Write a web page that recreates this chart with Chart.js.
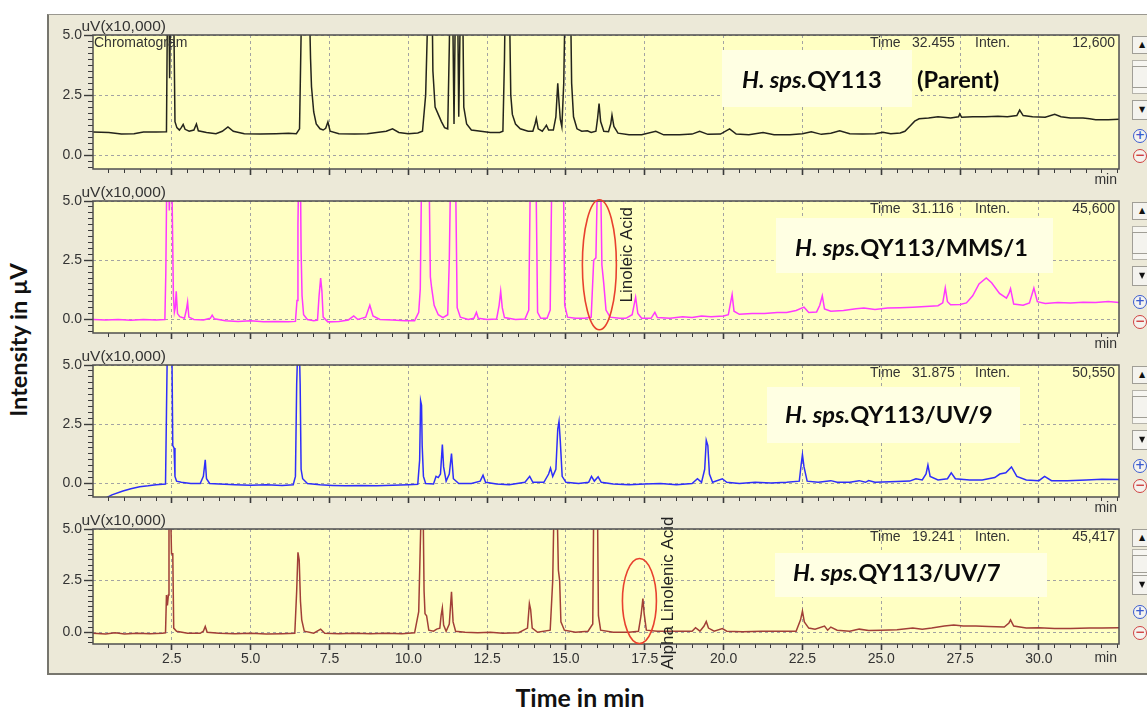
<!DOCTYPE html>
<html>
<head>
<meta charset="utf-8">
<script src="https://cdn.jsdelivr.net/npm/chart.js@4.4.1/dist/chart.umd.min.js"></script>
<style>
html,body{margin:0;padding:0;background:#fff;width:1147px;height:709px;overflow:hidden;position:relative;font-family:'Liberation Sans',Arial,sans-serif}
#frame{position:absolute;left:47px;top:14px;width:1110px;height:661px;background:#ECE9D8;box-sizing:border-box;border-top:1px solid #9a9890;border-left:2px solid #77766e;border-bottom:2px solid #77766e}
canvas{position:absolute}
.title{position:absolute;font-family:Lato,'Open Sans',sans-serif;font-weight:bold;color:#111;white-space:nowrap}
.btn{position:absolute;left:1132px;width:20px;box-sizing:border-box;background:#f4f3ee;border:1px solid #a09e96;font-size:8px;color:#111;text-align:center;font-family:'DejaVu Sans',sans-serif}
.slot{position:absolute;left:1132px;width:20px;box-sizing:border-box;background:#f7f6f1;border:1px solid #b5b3aa}
.circ{position:absolute;left:1133px;width:14px;height:14px;box-sizing:border-box;border-radius:50%;border:1.5px solid;background:#f4f3ee;font:bold 12px/11px 'DejaVu Sans',sans-serif;text-align:center}
</style>
</head>
<body>
<div id="frame"></div>
<div class="title" id="ytitle">Intensity in µV</div>
<div class="title" id="xtitle">Time in min</div>
<script>
// ---------------- data ----------------
const sampleGenus = 'H. sps.';
const sampleNames = ['QY113', 'QY113/MMS/1', 'QY113/UV/9', 'QY113/UV/7'];
const sampleNotes = ['(Parent)', '', '', ''];
const cursorTimes = ['32.455', '31.116', '31.875', '19.241'];
const cursorIntens = ['12,600', '45,600', '50,550', '45,417'];
const yUnitLabel = 'uV(x10,000)';
const xUnitLabel = 'min';
const xMajorTicks = [2.5, 5.0, 7.5, 10.0, 12.5, 15.0, 17.5, 20.0, 22.5, 25.0, 27.5, 30.0];
const yMajorTicks = [0.0, 2.5, 5.0];
const annoLabels = ['Linoleic Acid', 'Alpha Linolenic Acid'];
const annoTimes = [16.06, 17.33];
const annoLevels = [2.31, 1.51];

// [retention time (min), intensity (x10,000 uV)]
const parentTrace = [[0,0.97],[0.5,0.95],[0.9,0.88],[1.3,0.9],[1.6,0.97],[2.0,0.97],[2.33,0.98],
[2.36,6],[2.41,6],[2.43,3.2],[2.46,6],[2.56,6],[2.6,1.4],[2.66,1.15],[2.74,1.05],[2.8,1.15],[2.86,1.28],[2.92,1.08],[3.05,1.0],[3.2,1.05],[3.28,1.3],[3.34,1.02],[3.6,0.95],[3.9,0.9],[4.1,1.0],[4.28,1.18],[4.45,1.0],[4.8,0.9],[5.3,0.88],[5.8,0.9],[6.2,0.92],[6.45,0.9],[6.55,1.1],[6.6,5],[6.63,7],[6.85,7],[6.9,4],[6.93,2.85],[7.0,1.8],[7.08,1.3],[7.2,1.1],[7.3,1.05],[7.38,1.12],[7.45,1.39],[7.52,1.0],[7.8,0.9],[8.3,0.88],[8.7,0.9],[9.0,0.95],[9.3,1.0],[9.5,1.1],[9.7,0.95],[10.0,0.9],[10.3,0.93],[10.45,1.0],[10.55,2.5],[10.6,5],[10.62,7],[10.75,7],[10.78,3.5],[10.85,2.0],[10.95,1.7],[11.05,1.4],[11.15,1.15],[11.25,1.1],[11.3,4.5],[11.33,7],[11.4,7],[11.45,1.3],[11.5,7],[11.56,7],[11.6,1.6],[11.66,7],[11.72,7],[11.76,2.0],[11.85,1.3],[12.0,1.05],[12.3,1.0],[12.6,0.95],[12.9,0.95],[13.0,1.0],[13.05,4],[13.08,7],[13.2,7],[13.25,2.5],[13.3,1.7],[13.4,1.3],[13.55,1.1],[13.8,1.0],[13.95,1.0],[14.02,1.3],[14.06,1.53],[14.12,1.1],[14.25,1.0],[14.33,1.15],[14.38,1.25],[14.45,1.05],[14.6,1.05],[14.68,1.6],[14.74,2.99],[14.78,2.2],[14.82,1.5],[14.87,1.18],[14.93,3],[14.98,7],[15.14,7],[15.18,3],[15.24,1.6],[15.35,1.1],[15.5,1.0],[15.68,1.02],[15.8,0.95],[15.95,1.0],[16.0,1.5],[16.05,2.15],[16.1,1.4],[16.2,1.0],[16.35,0.98],[16.42,1.3],[16.46,1.67],[16.52,1.2],[16.65,0.92],[17.0,0.85],[17.4,0.85],[17.85,1.0],[18.1,0.85],[18.6,0.85],[19.0,0.88],[19.24,1.0],[19.5,0.87],[19.9,0.88],[20.19,1.1],[20.4,0.88],[20.8,0.85],[21.25,0.95],[21.6,0.85],[22.1,0.85],[22.5,0.9],[22.78,0.98],[23.1,0.87],[23.4,0.92],[23.68,1.02],[24.0,0.9],[24.4,0.88],[24.8,0.9],[25.05,0.96],[25.3,0.9],[25.6,0.93],[25.75,1.0],[25.9,1.2],[26.06,1.42],[26.2,1.52],[26.5,1.55],[26.8,1.6],[27.2,1.55],[27.45,1.6],[27.49,1.72],[27.55,1.58],[27.9,1.6],[28.3,1.6],[28.7,1.62],[29.0,1.6],[29.3,1.65],[29.39,1.88],[29.5,1.65],[29.8,1.6],[30.2,1.58],[30.5,1.7],[30.7,1.6],[31.0,1.55],[31.4,1.55],[31.61,1.52],[31.8,1.48],[32.2,1.48],[32.54,1.5]];

const mmsTrace = [[0,0.0],[0.4,-0.02],[0.8,0.0],[1.2,-0.03],[1.6,0.0],[2.0,-0.02],[2.28,0.0],[2.31,2.0],[2.34,6],[2.40,6],[2.42,4.6],[2.45,6],[2.5,6],[2.55,1.0],[2.58,0.3],[2.61,0.5],[2.64,1.19],[2.68,0.25],[2.75,0.12],[2.9,0.05],[2.96,0.4],[3.0,0.74],[3.04,0.1],[3.2,0.0],[3.5,-0.02],[3.72,0.05],[3.78,0.18],[3.85,0.03],[4.2,-0.05],[4.6,-0.08],[5.0,-0.05],[5.4,-0.1],[5.8,-0.08],[6.2,-0.1],[6.42,-0.08],[6.47,0.8],[6.5,4],[6.52,6],[6.58,6],[6.6,2.87],[6.63,1.0],[6.68,0.2],[6.8,0.0],[7.0,-0.05],[7.12,-0.03],[7.17,1.0],[7.22,1.75],[7.26,1.2],[7.3,0.1],[7.45,-0.1],[7.8,-0.08],[8.1,-0.02],[8.27,0.15],[8.4,0.0],[8.65,0.1],[8.78,0.6],[8.88,0.15],[9.1,0.0],[9.5,-0.02],[9.9,-0.05],[10.2,-0.05],[10.33,0.3],[10.38,1.3],[10.42,6],[10.66,6],[10.7,1.8],[10.74,1.33],[10.82,0.6],[10.95,0.2],[11.1,0.08],[11.25,0.2],[11.3,2.5],[11.34,6],[11.5,6],[11.55,0.5],[11.65,0.1],[11.9,0.0],[12.08,0.05],[12.16,0.3],[12.22,0.05],[12.5,0.0],[12.8,0.02],[12.88,0.6],[12.93,1.19],[12.98,0.5],[13.05,0.08],[13.4,0.0],[13.7,0.02],[13.82,0.4],[13.87,6],[14.05,6],[14.1,0.3],[14.2,0.05],[14.4,0.05],[14.5,0.4],[14.55,6],[14.92,6],[14.96,0.6],[15.05,0.1],[15.3,0.05],[15.6,0.05],[15.8,0.1],[15.88,2.5],[15.95,2.6],[16.0,6],[16.1,6],[16.14,2.3],[16.2,1.5],[16.27,0.4],[16.4,0.1],[16.7,0.05],[16.9,0.05],[17.1,0.2],[17.21,0.94],[17.28,0.25],[17.4,0.05],[17.7,0.05],[17.82,0.3],[17.9,0.08],[18.3,0.05],[18.7,0.12],[19.0,0.08],[19.3,0.15],[19.6,0.12],[20.0,0.15],[20.15,0.2],[20.22,0.7],[20.27,1.05],[20.33,0.35],[20.5,0.22],[20.9,0.25],[21.3,0.25],[21.7,0.3],[22.0,0.3],[22.3,0.38],[22.55,0.52],[22.7,0.3],[22.95,0.32],[23.05,0.6],[23.13,1.0],[23.2,0.45],[23.4,0.35],[23.8,0.38],[24.2,0.45],[24.45,0.48],[24.8,0.42],[25.2,0.48],[25.6,0.5],[26.0,0.52],[26.4,0.55],[26.8,0.58],[26.95,0.7],[27.03,1.33],[27.1,0.75],[27.2,0.62],[27.5,0.63],[27.7,0.7],[27.9,1.0],[28.1,1.5],[28.33,1.75],[28.5,1.55],[28.75,1.1],[28.97,0.9],[29.05,1.1],[29.1,1.3],[29.2,0.65],[29.5,0.6],[29.7,0.7],[29.84,1.33],[29.95,0.75],[30.2,0.68],[30.6,0.72],[31.0,0.7],[31.4,0.73],[31.8,0.72],[32.2,0.76],[32.54,0.72]];

const uv9Trace = [[0.2,-1.0],[0.37,-0.64],[0.6,-0.48],[0.95,-0.32],[1.2,-0.22],[1.48,-0.14],[1.75,-0.1],[2.0,-0.05],[2.3,-0.02],[2.33,3],[2.36,6],[2.5,6],[2.53,1.6],[2.57,1.5],[2.6,0.3],[2.65,0.1],[2.8,0.05],[3.1,0.0],[3.4,0.0],[3.5,0.3],[3.56,1.0],[3.6,0.2],[3.7,0.0],[4.0,-0.02],[4.5,-0.05],[5.0,-0.07],[5.5,-0.05],[6.0,-0.08],[6.35,-0.05],[6.42,0.3],[6.46,4.2],[6.5,6],[6.54,6],[6.57,4.2],[6.6,0.6],[6.65,0.2],[6.8,0.0],[7.2,-0.05],[7.6,-0.08],[8.0,-0.1],[8.5,-0.08],[9.0,-0.1],[9.5,-0.07],[10.0,-0.05],[10.3,-0.03],[10.36,1.0],[10.39,3.49],[10.42,3.3],[10.44,1.6],[10.48,0.3],[10.55,0.0],[10.8,-0.02],[10.88,0.3],[10.95,0.25],[11.02,0.4],[11.08,1.64],[11.12,0.7],[11.2,0.1],[11.3,0.4],[11.37,1.26],[11.43,0.2],[11.6,0.0],[12.0,0.0],[12.28,0.1],[12.37,0.35],[12.45,0.05],[12.8,-0.02],[13.2,-0.05],[13.7,0.05],[13.85,0.3],[13.95,0.05],[14.3,0.05],[14.45,0.4],[14.51,0.65],[14.58,0.3],[14.68,0.6],[14.74,2.3],[14.78,2.62],[14.82,1.8],[14.88,0.3],[15.0,0.05],[15.4,0.0],[15.72,0.05],[15.81,0.3],[15.9,0.1],[16.02,0.28],[16.12,0.05],[16.5,-0.02],[17.0,-0.05],[17.5,-0.02],[18.0,0.0],[18.5,-0.05],[19.0,0.0],[19.17,0.2],[19.3,0.05],[19.4,0.6],[19.45,1.82],[19.5,1.6],[19.55,0.4],[19.65,0.05],[19.96,0.2],[20.1,0.05],[20.5,0.0],[21.0,0.05],[21.5,0.02],[22.0,0.05],[22.4,0.1],[22.46,0.8],[22.5,1.22],[22.55,0.7],[22.65,0.1],[23.0,0.05],[23.4,0.12],[23.6,0.05],[24.0,0.05],[24.3,0.12],[24.5,0.05],[24.6,0.12],[24.8,0.05],[25.5,0.08],[25.9,0.1],[26.1,0.2],[26.3,0.15],[26.42,0.4],[26.48,0.78],[26.55,0.3],[26.8,0.15],[27.1,0.2],[27.22,0.45],[27.35,0.2],[27.8,0.15],[28.2,0.15],[28.6,0.25],[28.76,0.4],[28.95,0.45],[29.13,0.7],[29.3,0.3],[29.6,0.15],[30.0,0.12],[30.18,0.3],[30.4,0.12],[30.9,0.12],[31.5,0.15],[32.0,0.18],[32.54,0.17]];

const uv7Trace = [[0,-0.05],[0.4,-0.08],[0.7,-0.03],[1.0,-0.08],[1.4,-0.05],[1.8,-0.07],[2.2,-0.05],[2.3,-0.03],[2.33,1.8],[2.36,1.3],[2.39,1.8],[2.41,6],[2.46,6],[2.49,3.8],[2.53,3.8],[2.56,0.2],[2.65,0.05],[3.0,-0.05],[3.4,-0.05],[3.5,0.05],[3.56,0.28],[3.62,0.0],[4.0,-0.05],[4.5,-0.07],[5.0,-0.05],[5.5,-0.08],[6.0,-0.07],[6.4,-0.05],[6.46,2.0],[6.5,3.87],[6.54,3.5],[6.58,1.5],[6.62,0.6],[6.7,0.05],[7.0,-0.05],[7.22,0.15],[7.35,-0.05],[7.8,-0.07],[8.3,-0.05],[8.8,-0.07],[9.3,-0.05],[9.8,-0.07],[10.2,-0.03],[10.33,1.0],[10.38,4.2],[10.41,6],[10.47,6],[10.5,2.0],[10.53,0.9],[10.58,0.8],[10.65,0.1],[10.8,0.05],[10.9,0.15],[11.0,0.2],[11.04,0.8],[11.08,1.18],[11.12,0.35],[11.2,0.05],[11.3,0.4],[11.37,1.96],[11.42,0.5],[11.5,0.05],[11.8,0.0],[12.2,-0.02],[12.6,0.0],[13.0,-0.05],[13.5,-0.02],[13.78,0.2],[13.84,1.39],[13.88,1.1],[13.93,0.2],[14.1,0.0],[14.5,0.1],[14.58,2.5],[14.62,6],[14.72,6],[14.76,3.0],[14.8,2.5],[14.84,0.5],[14.95,0.1],[15.3,0.0],[15.7,0.05],[15.85,0.4],[15.88,6],[16.0,6],[16.03,0.8],[16.1,0.1],[16.5,0.0],[17.0,0.0],[17.3,0.05],[17.38,0.8],[17.44,1.63],[17.48,0.9],[17.55,0.1],[17.9,0.05],[18.5,0.05],[19.0,0.05],[19.11,0.22],[19.25,0.05],[19.38,0.3],[19.45,0.52],[19.52,0.2],[19.7,0.05],[19.96,0.18],[20.1,0.05],[20.6,0.02],[21.2,0.05],[21.8,0.05],[22.3,0.05],[22.44,0.6],[22.5,1.02],[22.56,0.5],[22.7,0.2],[22.9,0.15],[23.2,0.3],[23.3,0.1],[23.4,0.25],[23.6,0.1],[24.0,0.05],[24.3,0.15],[24.6,0.08],[25.0,0.1],[25.5,0.12],[26.0,0.2],[26.3,0.15],[26.6,0.2],[27.0,0.3],[27.3,0.35],[27.6,0.3],[28.0,0.3],[28.4,0.28],[28.9,0.25],[29.05,0.45],[29.1,0.6],[29.2,0.3],[29.6,0.2],[30.0,0.22],[30.5,0.18],[31.0,0.18],[31.6,0.2],[32.0,0.2],[32.54,0.22]];

const traces = [parentTrace, mmsTrace, uv9Trace, uv7Trace];

// ---------------- layout / style ----------------
const X_MIN = 0, X_MAX = 32.54, Y_MIN = -0.57, Y_MAX = 5.0;
const CANVAS_LEFT = 47, CANVAS_W = 1085, PAD_TOP = 22;
const layoutCfg = [
  {top:35,  bottom:169, xh:20, showX:false, color:'#24241c', box:[722,50,912,107],  tx:742, ty:80,  noteX:917, btn:[10,31,53,75,101,121], chrom:true},
  {top:201, bottom:333, xh:20, showX:false, color:'#ff38ff', box:[776,218,1053,273], tx:795, ty:248, btn:[10,31,53,75,101,121], anno:{i:0, rx:17, ry:65, dx:28, dy:-10}},
  {top:365, bottom:497, xh:20, showX:false, color:'#2e2efa', box:[767,387,1020,443], tx:785, ty:415, btn:[10,31,53,75,101,121]},
  {top:529, bottom:644, xh:31, showX:true,  color:'#a13f37', box:[775,553,1047,597], tx:793, ty:573, btn:[9,26,44,56,83,104], anno:{i:1, rx:17, ry:42.5, dx:28.6, dy:-8}}
];
const SMALL_FONT = "'Liberation Sans', Arial, sans-serif";
const LABEL_FONT = "Lato, 'Open Sans', sans-serif";

Chart.defaults.font.family = SMALL_FONT;
Chart.defaults.font.size = 14;
Chart.defaults.color = '#333';

// measure helper to size the big labels like the reference
const mctx = document.createElement('canvas').getContext('2d');
function textW(font, t){ mctx.font = font; return mctx.measureText(t).width; }
const labelSize = 100 * 233 / (textW(`italic bold 100px ${LABEL_FONT}`, sampleGenus) + textW(`bold 100px ${LABEL_FONT}`, sampleNames[1]));

// axis titles (HTML)
(function(){
  const yt = document.getElementById('ytitle');
  const xt = document.getElementById('xtitle');
  const ys = 100 * 154 / textW(`bold 100px ${LABEL_FONT}`, yt.textContent);
  const xs = 100 * 129 / textW(`bold 100px ${LABEL_FONT}`, xt.textContent);
  yt.style.fontSize = ys + 'px'; xt.style.fontSize = xs + 'px';
  yt.style.left = '18px'; yt.style.top = '340px'; yt.style.transform = 'translate(-50%,-50%) rotate(-90deg)';
  xt.style.left = '580px'; xt.style.top = '697px'; xt.style.transform = 'translate(-50%,-50%)';
})();

// tick lists (majors from data arrays, minors every 0.5 min / 0.25 units)
const xTicks = [];
for (let i = 1; i <= 65; i++) xTicks.push(Math.round(i * 50) / 100);
const yTicks = [];
for (let i = -2; i <= 20; i++) yTicks.push(Math.round(i * 25) / 100);
const isXMajor = v => xMajorTicks.some(m => Math.abs(m - v) < 1e-6);
const isYMajor = v => yMajorTicks.some(m => Math.abs(m - v) < 1e-6);

function addButtons(p){
  const T = p.top, b = p.btn;
  const mk = (cls, top, h, txt, extra) => {
    const d = document.createElement('div');
    d.className = cls; d.style.top = top + 'px';
    if (h) { d.style.height = h + 'px'; d.style.lineHeight = (h - 2) + 'px'; }
    if (txt) d.textContent = txt;
    if (extra) Object.assign(d.style, extra);
    document.body.appendChild(d);
  };
  mk('btn', T + b[0] - 9, 18, '▲');
  mk('slot', T + b[1] - 6, b[2] - b[1] + 12, '');
  mk('btn', T + b[1], b[2] - b[1], '');
  mk('btn', T + b[3] - 10, 20, '▼');
  mk('circ', T + b[4] - 7, 0, '+', {borderColor:'#3a5bd0', color:'#3a5bd0'});
  mk('circ', T + b[5] - 7, 0, '−', {borderColor:'#d04040', color:'#d04040'});
}

layoutCfg.forEach((p, idx) => {
  const cTop = p.top - PAD_TOP;
  const cH = p.bottom + p.xh - cTop;
  const cv = document.createElement('canvas');
  cv.width = CANVAS_W; cv.height = cH;
  cv.style.left = CANVAS_LEFT + 'px'; cv.style.top = cTop + 'px';
  cv.style.width = CANVAS_W + 'px'; cv.style.height = cH + 'px';
  document.body.appendChild(cv);
  addButtons(p);

  const deco = {
    id: 'deco' + idx,
    beforeDraw(chart){
      const {ctx, chartArea:a} = chart;
      ctx.save();
      ctx.fillStyle = '#FFFFC3';
      ctx.fillRect(a.left, a.top, a.right - a.left, a.bottom - a.top);
      ctx.restore();
    },
    beforeDatasetsDraw(chart){
      const ctx = chart.ctx;
      const [x1, y1, x2, y2] = p.box;
      ctx.save();
      ctx.fillStyle = '#FFFFE3';
      ctx.fillRect(x1 - CANVAS_LEFT, y1 - cTop, x2 - x1, y2 - y1);
      ctx.fillStyle = '#0a0a0a';
      ctx.textBaseline = 'middle';
      ctx.textAlign = 'left';
      let x = p.tx - CANVAS_LEFT; const y = p.ty - cTop;
      ctx.font = `italic bold ${labelSize}px ${LABEL_FONT}`;
      ctx.fillText(sampleGenus, x, y);
      x += ctx.measureText(sampleGenus).width;
      ctx.font = `bold ${labelSize}px ${LABEL_FONT}`;
      ctx.fillText(sampleNames[idx], x, y);
      if (sampleNotes[idx]) ctx.fillText(sampleNotes[idx], p.noteX - CANVAS_LEFT, y);
      ctx.restore();
    },
    afterDraw(chart){
      const {ctx, chartArea:a, scales} = chart;
      ctx.save();
      // plot frame
      ctx.strokeStyle = '#4f4f4f'; ctx.lineWidth = 1.5;
      ctx.strokeRect(a.left, a.top, a.right - a.left, a.bottom - a.top);
      // texts
      ctx.fillStyle = '#333'; ctx.textBaseline = 'middle';
      ctx.font = `15.5px ${SMALL_FONT}`; ctx.textAlign = 'left';
      ctx.fillText(yUnitLabel, a.left - 11.5, a.top - 8.5);
      ctx.font = `14px ${SMALL_FONT}`;
      ctx.fillText('Time', a.right - 249, a.top + 8);
      ctx.fillText(cursorTimes[idx], a.right - 207, a.top + 8);
      ctx.fillText('Inten.', a.right - 144, a.top + 8);
      ctx.textAlign = 'right';
      ctx.fillText(cursorIntens[idx], a.right - 4, a.top + 8);
      ctx.fillText(xUnitLabel, a.right - 2, a.bottom + (p.showX ? 14 : 11));
      if (p.chrom) { ctx.textAlign = 'left'; ctx.fillText('Chromatogram', a.left + 1, a.top + 8); }
      // annotation
      if (p.anno) {
        const an = p.anno;
        const cx = scales.x.getPixelForValue(annoTimes[an.i]);
        const cy = scales.y.getPixelForValue(annoLevels[an.i]);
        ctx.strokeStyle = '#e8412f'; ctx.lineWidth = 1.6;
        ctx.beginPath(); ctx.ellipse(cx, cy, an.rx, an.ry, 0, 0, Math.PI * 2); ctx.stroke();
        ctx.translate(cx + an.dx, cy + an.dy);
        ctx.rotate(-Math.PI / 2);
        ctx.textAlign = 'center'; ctx.fillStyle = '#222';
        ctx.font = `17px ${SMALL_FONT}`;
        ctx.fillText(annoLabels[an.i], 0, 0);
      }
      ctx.restore();
    }
  };

  new Chart(cv, {
    type: 'line',
    data: {
      datasets: [{
        data: traces[idx].map(([t, v]) => ({x: t, y: v})),
        borderColor: p.color,
        borderWidth: 1.5,
        pointRadius: 0,
        tension: 0,
        fill: false,
        clip: 0
      }]
    },
    options: {
      responsive: false,
      animation: false,
      devicePixelRatio: 1,
      events: [],
      layout: {padding: {top: PAD_TOP, left: 0, right: 13, bottom: 0}},
      plugins: {legend: {display: false}, tooltip: {enabled: false}},
      scales: {
        x: {
          type: 'linear', min: X_MIN, max: X_MAX, bounds: 'data',
          afterBuildTicks: s => { s.ticks = xTicks.map(v => ({value: v})); },
          afterFit: s => { s.height = p.xh; },
          ticks: {
            display: p.showX, autoSkip: false, maxRotation: 0, minRotation: 0, padding: 1,
            color: '#333', font: {size: 14},
            callback: v => isXMajor(v) ? v.toFixed(1) : ''
          },
          grid: {
            color: c => (c.tick && isXMajor(c.tick.value)) ? '#a3a3a3' : 'rgba(0,0,0,0)',
            lineWidth: 1,
            tickLength: 6,
            tickColor: '#3a3a3a',
            tickWidth: c => (c.tick && isXMajor(c.tick.value)) ? 1.6 : 1,
            tickBorderDash: c => (c.tick && isXMajor(c.tick.value)) ? [] : [4, 100]
          },
          border: {display: false, dash: [3, 3]}
        },
        y: {
          type: 'linear', min: Y_MIN, max: Y_MAX, bounds: 'data',
          afterBuildTicks: s => { s.ticks = yTicks.map(v => ({value: v})); },
          afterFit: s => { s.width = 46; },
          ticks: {
            autoSkip: false, padding: 2, color: '#333', font: {size: 14},
            callback: v => isYMajor(v) ? v.toFixed(1) : ''
          },
          grid: {
            color: c => (c.tick && isYMajor(c.tick.value)) ? '#a3a3a3' : 'rgba(0,0,0,0)',
            lineWidth: 1,
            tickLength: 9,
            tickColor: '#3a3a3a',
            tickWidth: c => (c.tick && isYMajor(c.tick.value)) ? 1.4 : 1,
            tickBorderDash: c => (c.tick && isYMajor(c.tick.value)) ? [] : [0, 4, 5, 100]
          },
          border: {display: false, dash: [3, 3]}
        }
      }
    },
    plugins: [deco]
  });
});
</script>
</body>
</html>
